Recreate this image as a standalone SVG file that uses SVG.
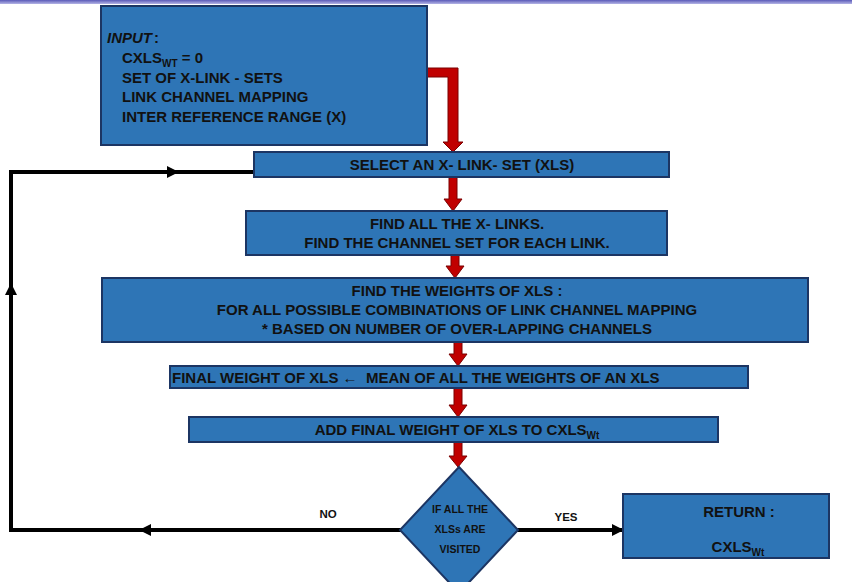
<svg xmlns="http://www.w3.org/2000/svg" width="852" height="582" viewBox="0 0 852 582">
  <defs>
    <linearGradient id="topBar" x1="0" y1="0" x2="0" y2="1">
      <stop offset="0" stop-color="#5a5ab8"/>
      <stop offset="1" stop-color="#b4b4e6"/>
    </linearGradient>
    <marker id="head" viewBox="0 0 12 12" markerUnits="userSpaceOnUse" markerWidth="12" markerHeight="13" refX="11" refY="6" orient="auto">
      <path d="M0,0 L12,6 L0,12 Z" fill="#000"/>
    </marker>
    <style>
      .box { fill: #2e75b6; stroke: #1c3563; stroke-width: 2; }
      .flow { fill: #c00000; stroke: #7a0000; stroke-width: 1; }
      .link { fill: none; stroke: #000; stroke-width: 4; }
      text { font-family: "Liberation Sans", Arial, sans-serif; font-weight: bold; fill: #111; }
      .t15 { font-size: 15px; }
      .ctr { text-anchor: middle; }
      .small { font-size: 10.5px; }
      .lbl { font-size: 11.5px; }
      .sub { font-size: 10px; }
    </style>
  </defs>

  <rect x="0" y="0" width="852" height="4" fill="url(#topBar)"/>

  <!-- flow arrows (red) and loop connectors (black) -->
  <g id="connectors">
    <path class="flow" d="M427,68 H458 V142 H463 L453,152 L443,142 H448 V77 H427 Z"/>
    <path class="flow" d="M449,177 V199 H444 L453,211 L462,199 H457 V177 Z"/>
    <path class="flow" d="M451,255 V266 H446 L455,278 L464,266 H459 V255 Z"/>
    <path class="flow" d="M454,342 V354 H449 L458,366 L467,354 H462 V342 Z"/>
    <path class="flow" d="M454,388 V405 H449 L458,417 L467,405 H462 V388 Z"/>
    <path class="flow" d="M454,442 V456 H449 L458,467 L467,456 H462 V442 Z"/>

    <path class="link" d="M401,530 H140" marker-end="url(#head)"/>
    <path class="link" d="M140,530 H11 V284" marker-end="url(#head)"/>
    <path class="link" d="M11,284 V172 H178" marker-end="url(#head)"/>
    <path class="link" d="M178,172 H254"/>
    <path class="link" d="M517,530 H623" marker-end="url(#head)"/>
    <text class="lbl ctr" x="328" y="518">NO</text>
    <text class="lbl ctr" x="566" y="521">YES</text>
  </g>

  <g id="input">
    <rect class="box" x="101" y="6" width="326" height="139"/>
    <text class="t15" x="107" y="43"><tspan font-style="italic">INPUT</tspan><tspan dx="2">:</tspan></text>
    <text class="t15" x="122" y="63">CXLS<tspan class="sub" dy="4">WT</tspan><tspan dy="-4"> = 0</tspan></text>
    <text class="t15" x="122" y="83">SET OF X-LINK - SETS</text>
    <text class="t15" x="122" y="102">LINK CHANNEL MAPPING</text>
    <text class="t15" x="122" y="122">INTER REFERENCE RANGE (X)</text>
  </g>

  <g id="select">
    <rect class="box" x="254" y="152" width="415" height="25"/>
    <text class="t15 ctr" x="462" y="170">SELECT AN X- LINK- SET (XLS)</text>
  </g>

  <g id="find-links">
    <rect class="box" x="246" y="211" width="421" height="44"/>
    <text class="t15 ctr" x="457" y="229">FIND ALL THE X- LINKS.</text>
    <text class="t15 ctr" x="457" y="248">FIND THE CHANNEL SET FOR EACH LINK.</text>
  </g>

  <g id="weights">
    <rect class="box" x="102" y="278" width="706" height="64"/>
    <text class="t15 ctr" x="457" y="296">FIND THE WEIGHTS OF XLS :</text>
    <text class="t15 ctr" x="457" y="315">FOR ALL POSSIBLE COMBINATIONS OF LINK CHANNEL MAPPING</text>
    <text class="t15 ctr" x="457" y="334">* BASED ON NUMBER OF OVER-LAPPING CHANNELS</text>
  </g>

  <g id="final-weight">
    <rect class="box" x="170" y="366" width="578" height="22"/>
    <text class="t15" x="172" y="383">FINAL WEIGHT OF XLS ← &#160;MEAN OF ALL THE WEIGHTS OF AN XLS</text>
  </g>

  <g id="add-weight">
    <rect class="box" x="189" y="417" width="529" height="25"/>
    <text class="t15 ctr" x="457" y="435">ADD FINAL WEIGHT OF XLS TO CXLS<tspan class="sub" dy="4">Wt</tspan></text>
  </g>

  <g id="visited">
    <polygon class="box" stroke-width="1.5" points="459,467 518,530 459,593 400,530"/>
    <text class="small ctr" x="460" y="513">IF ALL THE</text>
    <text class="small ctr" x="460" y="533">XLSs ARE</text>
    <text class="small ctr" x="460" y="553">VISITED</text>
  </g>

  <g id="return">
    <rect class="box" x="623" y="494" width="206" height="64"/>
    <text class="t15 ctr" x="739" y="517">RETURN :</text>
    <text class="t15 ctr" x="738" y="552">CXLS<tspan class="sub" dy="4">Wt</tspan></text>
  </g>
</svg>
